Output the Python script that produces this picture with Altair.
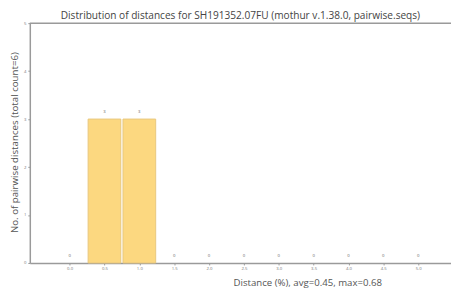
import altair as alt
import pandas as pd

distances = [0.0, 0.5, 1.0, 1.5, 2.0, 2.5, 3.0, 3.5, 4.0, 4.5, 5.0]
counts = [0, 3, 3, 0, 0, 0, 0, 0, 0, 0, 0]
y_ticks = [0, 1, 2, 3, 4, 5]

df = pd.DataFrame({"distance": distances, "count": counts})

FONT = "Open Sans"
GRAY = "#9a9a9a"

x_enc = alt.X(
    "distance:Q",
    scale=alt.Scale(domain=[-0.5, 5.4], nice=False, zero=False),
    axis=alt.Axis(
        values=distances,
        format=".1f",
        title="Distance (%), avg=0.45, max=0.68",
        titleX=280,
        titleY=20,
        titleBaseline="middle",
        titleFont=FONT,
        titleFontSize=9.7,
        titleFontWeight="normal",
        titleColor="#555555",
        labelFont=FONT,
        labelFontSize=4.3,
        labelColor="#777777",
        labelPadding=2,
        tickSize=2,
        tickColor=GRAY,
        domainColor=GRAY,
        domainWidth=1.5,
        grid=False,
    ),
)

y_enc = alt.Y(
    "count:Q",
    scale=alt.Scale(domain=[0, 5], nice=False),
    axis=alt.Axis(
        values=y_ticks,
        title="No. of pairwise distances (total count=6)",
        titleFont=FONT,
        titleFontSize=9.8,
        titleFontWeight="normal",
        titleColor="#555555",
        titleX=-15,
        titleY=120,
        titleBaseline="middle",
        titleAlign="center",
        titleAngle=270,
        labelFont=FONT,
        labelFontSize=4.3,
        labelColor="#777777",
        labelPadding=2,
        tickSize=2,
        tickColor=GRAY,
        domainColor=GRAY,
        domainWidth=1.5,
        grid=False,
    ),
)

base = alt.Chart(df)

bars = base.transform_filter(alt.datum["count"] > 0).mark_bar(
    size=33, color="#FCD880", stroke="#E8C77E", strokeWidth=1
).encode(x=x_enc, y=y_enc)

labels = base.mark_text(
    font=FONT, fontSize=4.3, color="#666666", dy=-7
).encode(x="distance:Q", y="count:Q", text=alt.Text("count:Q"))

top_line = alt.Chart(pd.DataFrame({"top": [y_ticks[-1]]})).mark_rule(
    color=GRAY, strokeWidth=1.5
).encode(y="top:Q")

chart = (
    alt.layer(bars, labels, top_line)
    .properties(
        width=425,
        height=242,
        title=alt.TitleParams(
            "Distribution of distances for SH191352.07FU (mothur v.1.38.0, pairwise.seqs)",
            font=FONT,
            fontSize=10.2,
            fontWeight="normal",
            color="#444444",
            anchor="middle",
            offset=0,
        ),
        padding={"left": 22, "top": 14, "right": 0, "bottom": 26},
        autosize=alt.AutoSizeParams(type="none"),
    )
    .configure_view(stroke=None)
)

chart.save("out.html", embed_options={"renderer": "svg", "actions": False})
